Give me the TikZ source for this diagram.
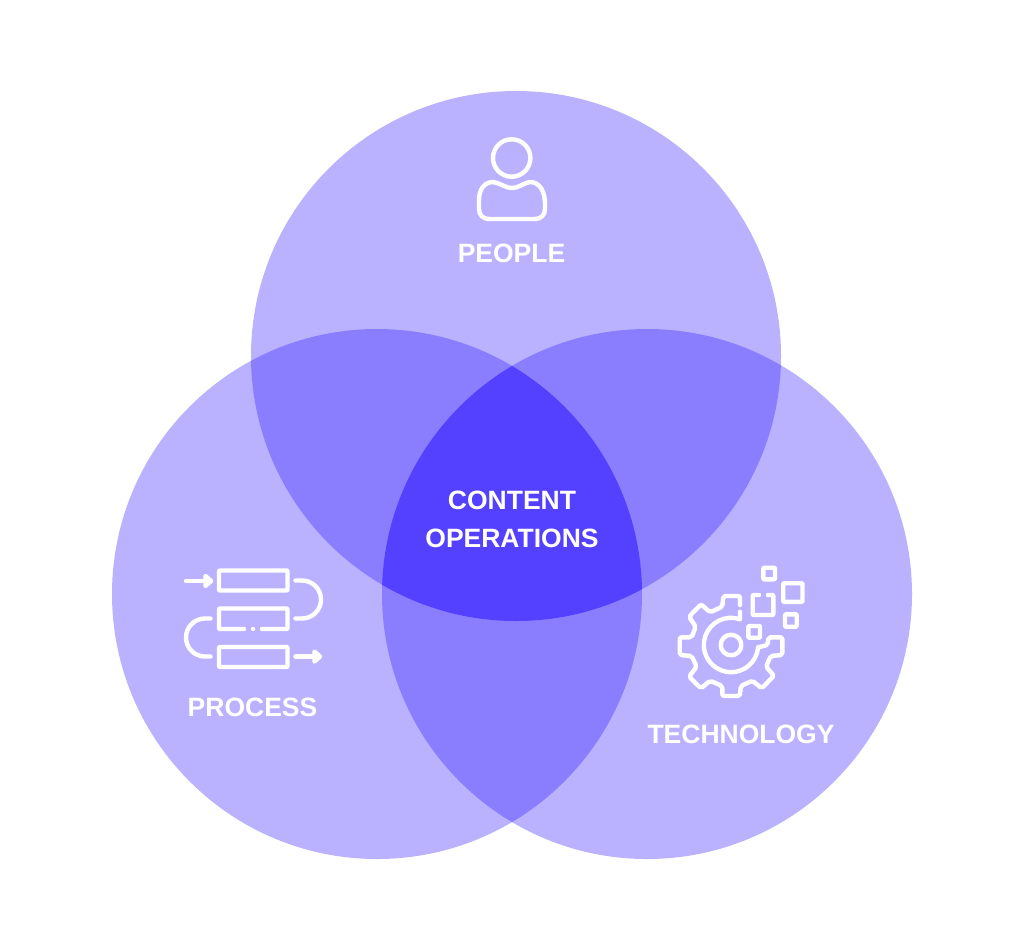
\documentclass[tikz,border=0pt]{standalone}
\usepackage{fontspec}
\setmainfont{Liberation Sans}
\usepackage{xcolor}
\definecolor{onelap}{RGB}{186,178,255}
\definecolor{twolap}{RGB}{138,126,255}
\definecolor{threelap}{RGB}{84,64,255}
\def\topcirc{(516,356) circle (265)}
\def\leftcirc{(377,594) circle (265)}
\def\rightcirc{(647,594) circle (265)}
\tikzset{
    icon/.style={draw=white, line width=4.4pt, line cap=round, line join=round},
    tiny/.style={draw=white, line width=4.4pt, rounded corners=0.8pt, line cap=round, line join=round},
    word/.style={text=white, font=\fontsize{26.5}{30}\selectfont\bfseries, inner sep=0pt, anchor=center},
}
\begin{document}
\begin{tikzpicture}[x=1pt,y=-1pt]
    \useasboundingbox (0,0) rectangle (1024,950);

    % circles
    \fill[onelap] \topcirc;
    \fill[onelap] \leftcirc;
    \fill[onelap] \rightcirc;

    % overlaps
    \begin{scope}
        \clip \topcirc;
        \fill[twolap] \leftcirc;
        \fill[twolap] \rightcirc;
    \end{scope}
    \begin{scope}
        \clip \leftcirc;
        \fill[twolap] \rightcirc;
    \end{scope}
    \begin{scope}
        \clip \topcirc;
        \clip \leftcirc;
        \fill[threelap] \rightcirc;
    \end{scope}

    % people icon
    \draw[icon] (511.7,158) circle (18.7);
    \draw[icon] (493,182) .. controls (503,184) and (505,188) .. (512,188)
        .. controls (519,188) and (521,184) .. (530,182)
        .. controls (540,182) and (545,192) .. (545,204)
        -- (545,209) .. controls (545,215) and (541,219) .. (535,219)
        -- (489,219) .. controls (483,219) and (479,215) .. (479,209)
        -- (479,200) .. controls (479,190) and (484,182) .. (493,182) -- cycle;

    % process icon
    \draw[tiny] (219,570.5) rectangle (287.5,590.5);
    \draw[tiny] (244,629) -- (219,629) -- (219,608.5) -- (287.5,608.5) -- (287.5,629) -- (262,629);
    \draw[icon] (253,629) -- (253.2,629);
    \draw[tiny] (219,647) rectangle (287.5,667);
    \draw[icon] (186,581) -- (208,581);
    \draw[icon,fill=white] (205.5,576) -- (211,581) -- (205.5,586) -- cycle;
    \draw[icon] (295.5,580.5) -- (302,580.5) arc (-90:90:19) -- (295.5,618.5);
    \draw[icon] (210.5,618.5) -- (205,618.5) arc (-90:-270:19) -- (210.5,656.5);
    \draw[icon] (295.5,656.5) -- (317,656.5);
    \draw[icon,fill=white] (314.5,651.5) -- (320,656.5) -- (314.5,661.5) -- cycle;

    % technology icon
    \draw[icon] (731,645) circle (10.3);
    \draw[icon] (740,611.7) -- (740,619.3) arc (-70.7:-355:27.2);
    \draw[icon,rounded corners=2pt] (740,605) -- (740,596) -- (723.3,596) -- (722.3,606.7)
        -- (710,612.3) -- (701,604.3) -- (689,616.7) -- (695.7,626.7) -- (691.7,637.3)
        -- (679.7,637.3) -- (679.7,655) -- (691.7,656) -- (696.7,666.7) -- (689,676.7)
        -- (701,688.3) -- (710,680.7) -- (722.3,686) -- (722.3,696) -- (740,696)
        -- (740.7,686) -- (752.3,680.7) -- (761.7,688.3) -- (774,675.7) -- (766,666.7)
        -- (770.7,656) -- (782.3,655) -- (782.3,637.3) -- (768.3,637.3) -- (767.7,645) -- (758.3,647.3);
    \draw[tiny] (763.3,567.7) rectangle (775,579.3);
    \draw[tiny] (783.2,583.2) rectangle (802.5,601.8);
    \draw[tiny] (785,614.3) rectangle (796.7,626.7);
    \draw[tiny] (748.3,626) rectangle (760,637.7);
    \draw[tiny] (759,595) -- (752.7,595) -- (752.7,615) -- (773.3,615) -- (773.3,595) -- (768,595);

    % labels
    \node[word] (people) at (511.5,253.5) {PEOPLE};
    \node[word] (content) at (512,500.5) {CONTENT};
    \node[word] (operations) at (512,538) {OPERATIONS};
    \node[word] (process) at (252.5,707.5) {PROCESS};
    \node[word] (technology) at (741,734.5) {TECHNOLOGY};
\end{tikzpicture}
\end{document}
